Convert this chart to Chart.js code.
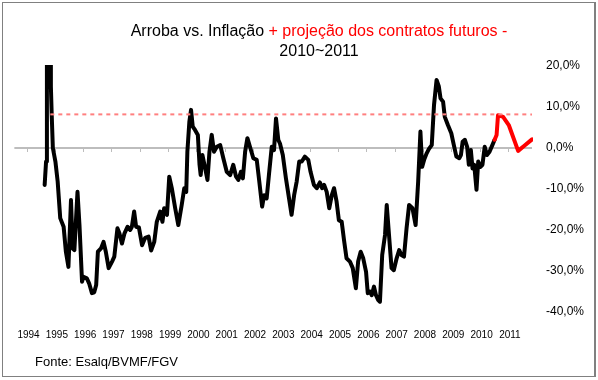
<!DOCTYPE html>
<html>
<head>
<meta charset="utf-8">
<script src="https://cdn.jsdelivr.net/npm/chart.js@4.4.0/dist/chart.umd.min.js"></script>
<style>
    body { margin: 0; background: #fff; }
    #wrap { position: relative; width: 598px; height: 380px; font-family: "Liberation Sans", Arial, sans-serif; }
    #frame { position: absolute; left: 2px; top: 2px; width: 591px; height: 373px; border: 1px solid #808080; border-right-width: 2px; pointer-events: none; }
    #title { position: absolute; left: 20px; top: 21px; width: 598px; text-align: center; font-size: 16px; line-height: 20px; color: #000; }
    #title .red { color: #ff0000; }
    #source { position: absolute; left: 35px; top: 354px; font-size: 13px; color: #000; }
    canvas { position: absolute; left: 0; top: 0; }
</style>
</head>
<body>
<div id="wrap">
    <canvas id="arroba-chart" width="598" height="380"></canvas>
    <div id="title">Arroba vs. Inflação <span class="red">+ projeção dos contratos futuros -</span><br>2010~2011</div>
    <div id="source">Fonte: Esalq/BVMF/FGV</div>
    <div id="frame"></div>
</div>
<script>
// year labels on the axis
const years = [1994, 1995, 1996, 1997, 1998, 1999, 2000, 2001, 2002, 2003,
    2004, 2005, 2006, 2007, 2008, 2009, 2010, 2011];

// arroba vs inflation, historical (decimal year, %)
const histDates = [
    1994.57, 1994.62, 1994.65, 1994.73, 1994.77, 1994.79, 1994.82, 1994.86, 1994.95,
    1995.03, 1995.12, 1995.24, 1995.32, 1995.41, 1995.50, 1995.56, 1995.62, 1995.68, 1995.73, 1995.80, 1995.89, 1995.94,
    1996.06, 1996.14, 1996.24, 1996.32, 1996.39, 1996.45, 1996.56, 1996.65, 1996.73, 1996.83, 1996.95,
    1997.03, 1997.14, 1997.21, 1997.30, 1997.39, 1997.50, 1997.59, 1997.65, 1997.73, 1997.80, 1997.90,
    1998.01, 1998.12, 1998.24, 1998.33, 1998.44, 1998.53, 1998.65, 1998.73, 1998.79, 1998.89, 1998.97,
    1999.06, 1999.18, 1999.29, 1999.41, 1999.50, 1999.57, 1999.61, 1999.68, 1999.74, 1999.80, 1999.88, 1999.98,
    2000.04, 2000.08, 2000.14, 2000.24, 2000.32, 2000.39, 2000.47, 2000.55, 2000.65, 2000.77, 2000.88,
    2001.00, 2001.12, 2001.23, 2001.33, 2001.41, 2001.50, 2001.57, 2001.65, 2001.73, 2001.82, 2001.94,
    2002.06, 2002.15, 2002.25, 2002.32, 2002.41, 2002.49, 2002.59, 2002.67, 2002.74, 2002.82, 2002.88, 2002.98,
    2003.09, 2003.20, 2003.29, 2003.38, 2003.47, 2003.56, 2003.65, 2003.76, 2003.88, 2003.96,
    2004.08, 2004.18, 2004.29, 2004.37, 2004.44, 2004.53, 2004.62, 2004.71, 2004.79, 2004.88, 2004.96,
    2005.06, 2005.14, 2005.23, 2005.35, 2005.45, 2005.56, 2005.64, 2005.73, 2005.82, 2005.92, 2005.98,
    2006.06, 2006.12, 2006.20, 2006.27, 2006.35, 2006.41, 2006.49, 2006.59, 2006.65, 2006.73, 2006.82, 2006.90,
    2007.00, 2007.09, 2007.17, 2007.26, 2007.35, 2007.44, 2007.56, 2007.67, 2007.76, 2007.84, 2007.90, 2007.97,
    2008.06, 2008.15, 2008.24, 2008.32, 2008.41, 2008.49, 2008.55, 2008.64, 2008.70, 2008.81, 2008.93,
    2009.02, 2009.11, 2009.21, 2009.27, 2009.33, 2009.41, 2009.49, 2009.55, 2009.62, 2009.68, 2009.74, 2009.82, 2009.88, 2009.96,
    2010.03, 2010.11, 2010.19, 2010.28, 2010.38, 2010.46
];
const histValues = [
    -9.0, -3.3, 22.0, 17.5, 22.0, 15.0, 8.0, 0.0, -3.3,
    -8.2, -17.1, -19.2, -25.3, -29.0, -12.7, -24.5, -24.9, -17.1, -10.7, -18.8, -32.6, -31.4,
    -31.8, -33.0, -35.4, -35.2, -33.4, -25.3, -24.5, -22.9, -25.3, -29.3, -27.7,
    -26.5, -19.6, -20.8, -23.3, -20.8, -19.2, -20.0, -19.2, -15.5, -19.2, -19.4,
    -23.7, -21.9, -21.6, -25.0, -22.9, -18.0, -15.5, -18.0, -14.7, -16.3, -7.0,
    -9.8, -14.7, -18.8, -13.9, -9.8, -10.7, -0.9, 6.4, 9.3, 5.2, 4.4, 3.2,
    -4.1, -6.6, -1.7, -5.0, -7.8, -0.9, 3.2, -0.9, 0.3, 0.7, -2.5,
    -5.8, -6.6, -4.1, -7.0, -7.8, -5.8, -7.4, -0.9, 2.4, 0.3, -2.5,
    -2.9, -8.2, -14.3, -11.5, -12.3, -6.6, 0.3, -0.5, 7.2, 2.0, 1.1, -1.7,
    -7.4, -12.3, -16.3, -11.5, -8.2, -3.3, -3.3, -2.1, -2.9, -5.8,
    -9.0, -9.8, -8.4, -9.8, -9.0, -10.7, -14.7, -11.5, -9.8, -13.1, -17.6,
    -18.0, -22.4, -26.9, -27.7, -29.3, -34.2, -27.7, -25.3, -26.9, -30.2, -35.4,
    -35.0, -35.9, -33.8, -35.9, -37.1, -37.5, -26.1, -21.2, -13.9, -21.2, -29.3, -29.8,
    -26.9, -24.9, -26.1, -26.5, -19.6, -13.9, -14.7, -18.8, -8.2, 4.0, -4.6, -2.9,
    -1.3, -0.1, 0.7, 10.5, 16.6, 15.0, 12.1, 11.3, 7.6, 5.6, 3.6,
    0.7, -2.1, -2.5, -1.7, 1.5, 2.0, 0.3, -4.1, -0.5, -5.0, -4.1, -10.2, -3.3, -4.6,
    -4.1, 0.3, -1.7, -0.9, 0.7, 2.0
];

// futures projection 2010-2011
const projDates = [2010.46, 2010.53, 2010.58, 2010.76, 2010.96, 2011.29, 2011.52, 2011.78];
const projValues = [2.0, 3.2, 8.0, 7.6, 5.6, -0.7, 0.6, 2.1];

// reference level (dashed)
const refDates = [1994.77, 2011.78];
const refValues = [8.2, 8.2];

const toPoints = (xs, ys) => xs.map((x, i) => ({ x: x, y: ys[i] }));

// gray zero line with small year ticks on it
const zeroLine = {
    id: 'zeroLine',
    beforeDatasetsDraw(chart) {
        const { ctx, chartArea, scales } = chart;
        const y0 = scales.y.getPixelForValue(0);
        ctx.save();
        ctx.strokeStyle = '#bdbdbd';
        ctx.lineWidth = 2;
        ctx.beginPath();
        ctx.moveTo(chartArea.left, y0);
        ctx.lineTo(chartArea.right, y0);
        ctx.stroke();
        ctx.lineWidth = 1;
        years.forEach(yr => {
            const x = Math.round(scales.x.getPixelForValue(yr)) - 1.5;
            ctx.beginPath();
            ctx.moveTo(x, y0);
            ctx.lineTo(x, y0 + 4);
            ctx.stroke();
        });
        ctx.restore();
    }
};

const fontFamily = '"Liberation Sans", Arial, sans-serif';

new Chart(document.getElementById('arroba-chart'), {
    type: 'line',
    data: {
        datasets: [
            {
                label: 'Referência',
                data: toPoints(refDates, refValues),
                borderColor: '#ff8080',
                borderWidth: 2,
                borderDash: [4, 4],
                pointRadius: 0,
                fill: false
            },
            {
                label: 'Projeção',
                data: toPoints(projDates, projValues),
                borderColor: '#ff0000',
                borderWidth: 4,
                borderJoinStyle: 'round',
                borderCapStyle: 'round',
                pointRadius: 0,
                fill: false,
                clip: 1
            },
            {
                label: 'Arroba vs. Inflação',
                data: toPoints(histDates, histValues),
                borderColor: '#000000',
                borderWidth: 4,
                borderJoinStyle: 'round',
                borderCapStyle: 'round',
                pointRadius: 0,
                fill: false,
                clip: 1
            }
        ]
    },
    options: {
        responsive: false,
        animation: false,
        devicePixelRatio: 1,
        layout: { padding: { left: 14, top: 66, right: 0, bottom: 0 } },
        plugins: {
            legend: { display: false },
            tooltip: { enabled: false }
        },
        scales: {
            x: {
                type: 'linear',
                min: 1993.5,
                max: 2011.78,
                grid: { display: false, drawTicks: false },
                border: { display: false },
                afterBuildTicks: s => { s.ticks = years.map(v => ({ value: v })); },
                afterFit: s => { s.height = 68; },
                ticks: {
                    autoSkip: false,
                    maxRotation: 0,
                    padding: 17,
                    color: '#000',
                    font: { family: fontFamily, size: 10 },
                    callback: v => String(v)
                }
            },
            y: {
                position: 'right',
                min: -40,
                max: 20,
                grid: { display: false, drawTicks: false },
                border: { display: false },
                afterFit: s => { s.width = 66; },
                ticks: {
                    stepSize: 10,
                    padding: 14,
                    color: '#000',
                    font: { family: fontFamily, size: 12 },
                    callback: v => v.toFixed(1).replace('.', ',') + '%'
                }
            }
        }
    },
    plugins: [zeroLine]
});
</script>
</body>
</html>
